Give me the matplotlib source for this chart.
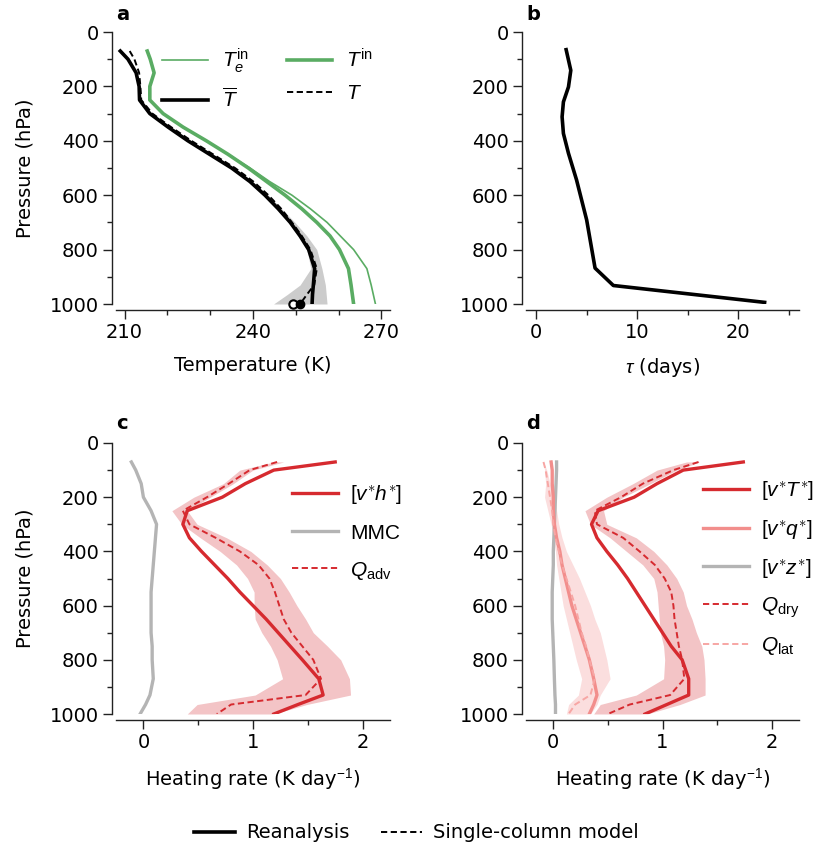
import numpy as np
import matplotlib
matplotlib.use("Agg")
import matplotlib.pyplot as plt
from matplotlib.lines import Line2D
from matplotlib.ticker import MultipleLocator

plt.rcParams['font.family'] = ['DejaVu Sans']
plt.rcParams['mathtext.fontset'] = 'custom'
plt.rcParams['mathtext.rm'] = 'Liberation Sans'
plt.rcParams['mathtext.it'] = 'Liberation Sans:italic'
plt.rcParams['mathtext.bf'] = 'Liberation Sans:bold'

# ---------------- data ----------------
P = [70, 100, 150, 200, 250, 300, 350, 400, 450, 500, 550, 600, 650, 700, 750, 800, 870, 930, 965, 1000]

# panel a (K)
T_bar = [209.0, 210.8, 212.7, 213.4, 213.5, 215.9, 220.2, 224.8, 229.9, 235.0, 239.3, 242.8, 245.9, 248.7, 251.0, 253.0, 254.4, 254.1, 253.9, 253.8]
T_scm = [211.2, 212.3, 213.4, 213.7, 213.9, 216.5, 220.9, 225.6, 230.7, 235.8, 240.1, 243.6, 246.6, 249.1, 251.4, 253.4, 254.9, 254.3, 252.6, 251.0]
T_in = [215.3, 216.0, 216.9, 215.9, 215.9, 219.0, 223.7, 229.1, 234.2, 238.9, 243.2, 247.5, 251.4, 254.9, 258.0, 260.2, 262.3, 262.9, 263.2, 263.5]
Te_in = [215.3, 216.0, 216.9, 215.9, 215.9, 219.0, 223.7, 229.1, 234.2, 239.3, 243.9, 249.1, 253.4, 257.3, 260.4, 263.5, 266.6, 267.6, 268.1, 268.6]
T_lo = [208.9, 210.7, 212.6, 213.3, 213.4, 215.8, 220.1, 224.7, 229.8, 234.9, 239.2, 242.7, 245.5, 248.3, 250.6, 252.6, 253.5, 251.0, 248.0, 244.8]
T_hi = [209.1, 210.9, 212.8, 213.5, 213.6, 216.0, 220.3, 224.9, 230.0, 235.1, 239.5, 243.6, 246.7, 249.8, 252.6, 254.9, 256.1, 256.9, 257.1, 257.3]
Ts_obs = 249.3
Ts_scm = 250.9

# panel b (days)
P_tau = [65, 141, 202, 257, 312, 373, 446, 544, 691, 868, 932, 994]
tau = [2.97, 3.43, 3.2, 2.7, 2.57, 2.7, 3.2, 4.0, 5.0, 5.83, 7.64, 22.6]

# panel c (K/day)
vh = [1.75, 1.19, 0.93, 0.72, 0.40, 0.36, 0.42, 0.53, 0.65, 0.77, 0.88, 1.00, 1.12, 1.23, 1.34, 1.45, 1.60, 1.64, 1.41, 1.19]
mmc = [-0.11, -0.07, -0.02, 0.0, 0.07, 0.12, 0.11, 0.10, 0.09, 0.08, 0.07, 0.07, 0.07, 0.07, 0.08, 0.08, 0.09, 0.06, 0.02, -0.03]
Q_adv = [1.22, 0.97, 0.78, 0.58, 0.36, 0.42, 0.66, 0.88, 1.05, 1.15, 1.20, 1.24, 1.28, 1.35, 1.45, 1.55, 1.62, 1.48, 0.80, 0.67]
Q_adv_lo = [1.19, 0.88, 0.73, 0.46, 0.26, 0.35, 0.52, 0.70, 0.85, 0.95, 1.01, 1.01, 1.02, 1.08, 1.16, 1.22, 1.27, 1.02, 0.49, 0.40]
Q_adv_hi = [1.28, 1.00, 0.82, 0.61, 0.40, 0.49, 0.76, 0.98, 1.13, 1.25, 1.33, 1.40, 1.48, 1.55, 1.68, 1.80, 1.88, 1.89, 1.49, 1.19]

# panel d (K/day)
vT = [1.74, 1.19, 0.95, 0.74, 0.41, 0.35, 0.40, 0.49, 0.59, 0.68, 0.76, 0.84, 0.92, 1.00, 1.08, 1.18, 1.24, 1.24, 1.04, 0.84]
vq = [-0.02, -0.01, -0.01, 0.0, 0.0, 0.01, 0.03, 0.06, 0.08, 0.11, 0.14, 0.17, 0.21, 0.25, 0.29, 0.33, 0.37, 0.40, 0.37, 0.33]
vz = [0.03, 0.03, 0.025, 0.02, 0.015, 0.01, 0.005, 0.0, 0.0, -0.005, -0.01, -0.01, -0.01, -0.005, 0.0, 0.005, 0.01, 0.015, 0.02, 0.02]
Q_dry = [1.33, 1.10, 0.82, 0.62, 0.38, 0.40, 0.64, 0.79, 0.93, 1.02, 1.08, 1.10, 1.11, 1.13, 1.15, 1.18, 1.20, 1.07, 0.70, 0.50]
Q_dry_lo = [1.22, 0.95, 0.73, 0.49, 0.29, 0.34, 0.52, 0.67, 0.82, 0.92, 0.95, 0.96, 0.97, 0.98, 1.01, 1.02, 1.01, 0.76, 0.43, 0.37]
Q_dry_hi = [1.34, 1.13, 0.89, 0.64, 0.46, 0.49, 0.76, 0.92, 1.04, 1.13, 1.19, 1.22, 1.27, 1.31, 1.36, 1.38, 1.39, 1.39, 1.16, 0.86]
Q_lat = [-0.09, -0.07, -0.05, -0.03, -0.01, 0.0, 0.02, 0.05, 0.08, 0.12, 0.16, 0.20, 0.23, 0.26, 0.30, 0.33, 0.38, 0.34, 0.20, 0.14]
Q_lat_lo = [-0.09, -0.08, -0.07, -0.08, -0.05, -0.02, 0.0, 0.02, 0.03, 0.05, 0.07, 0.09, 0.12, 0.15, 0.18, 0.21, 0.26, 0.23, 0.14, 0.12]
Q_lat_hi = [-0.09, -0.06, -0.03, 0.02, 0.03, 0.05, 0.08, 0.12, 0.18, 0.24, 0.29, 0.34, 0.38, 0.43, 0.46, 0.49, 0.52, 0.43, 0.40, 0.34]

# ---------------- style ----------------
RED = '#d62a2f'
LRED = '#f28e8c'
LLRED = '#f7a6a4'
SHADE = '#f3c4c6'
LSHADE = '#fbdede'
GRAY = '#b4b4b4'
GREEN = '#5aac63'
DASH = (0, (3.2, 1.8))

fig = plt.figure(figsize=(8.33, 8.51), dpi=100)
W, H = 833, 851
def add_ax(x0, x1, y0, y1):
    return fig.add_axes([x0 / W, 1 - y1 / H, (x1 - x0) / W, (y1 - y0) / H])

axa = add_ax(116, 390, 32, 304)
axb = add_ax(526, 799, 32, 304)
axc = add_ax(116, 390, 443, 714)
axd = add_ax(526, 799, 443, 714)

TICKFS = 14
for ax in (axa, axb, axc, axd):
    ax.spines['top'].set_visible(False)
    ax.spines['right'].set_visible(False)
    ax.spines['left'].set_position(('outward', 3))
    ax.spines['bottom'].set_position(('outward', 4.5))
    for s in ('left', 'bottom'):
        ax.spines[s].set_linewidth(1.0)
        ax.spines[s].set_color('#222222')
    ax.set_ylim(1000, 0)
    ax.yaxis.set_major_locator(MultipleLocator(200))
    ax.yaxis.set_minor_locator(MultipleLocator(100))
    ax.tick_params(which='major', length=6.5, width=1.0, labelsize=TICKFS, color='#222222', pad=3)
    ax.tick_params(which='minor', length=3.5, width=1.0, color='#222222')
    ax.set_facecolor('none')

LEGFONT = {'family': ['Liberation Sans', 'DejaVu Sans'], 'size': 15}

# panel a
axa.fill_betweenx(P, T_lo, T_hi, color='#cccccc', lw=0, zorder=1)
axa.plot(Te_in, P, color=GREEN, lw=1.2, label=r'$T_e^{\mathrm{in}}$', zorder=2)
axa.plot(T_bar, P, color='k', lw=2.6, label=r'$\overline{T}$', zorder=3)
axa.plot(T_in, P, color=GREEN, lw=2.6, label=r'$T^{\mathrm{in}}$', zorder=2)
axa.plot(T_scm, P, color='k', lw=1.4, ls=DASH, label=r'$T$', zorder=4)
axa.plot([Ts_obs], [1000], 'o', mfc='white', mec='k', ms=6, mew=1.5, clip_on=False, zorder=5)
axa.plot([Ts_scm], [1000], 'o', color='k', ms=6, clip_on=False, zorder=5)
axa.set_xlim(208, 272)
axa.xaxis.set_minor_locator(MultipleLocator(10))
axa.set_xticks([210, 240, 270])
axa.set_xlabel('Temperature (K)', fontsize=TICKFS, labelpad=10)
axa.set_ylabel('Pressure (hPa)', fontsize=TICKFS, labelpad=11)
axa.legend(loc='upper left', bbox_to_anchor=(0.10, 1.015), ncol=2, frameon=False,
           prop=LEGFONT, handlelength=2.2, handletextpad=0.65, columnspacing=1.85,
           labelspacing=0.6)

# panel b
axb.plot(tau, P_tau, color='k', lw=2.6)
axb.set_xlim(-1, 26)
axb.xaxis.set_major_locator(MultipleLocator(10))
axb.xaxis.set_minor_locator(MultipleLocator(5))
axb.set_xlabel(r'$\tau$ (days)', fontsize=TICKFS, labelpad=10)

# panel c
axc.fill_betweenx(P, Q_adv_lo, Q_adv_hi, color=SHADE, lw=0, zorder=1)
axc.plot(vh, P, color=RED, lw=2.4, label=r'$[v^{\ast}h^{\ast}]$', zorder=3)
axc.plot(mmc, P, color=GRAY, lw=2.4, label='MMC', zorder=2)
axc.plot(Q_adv, P, color=RED, lw=1.4, ls=DASH, label=r'$Q_{\mathrm{adv}}$', zorder=4)
axc.set_xlim(-0.25, 2.25)
axc.xaxis.set_major_locator(MultipleLocator(1))
axc.xaxis.set_minor_locator(MultipleLocator(0.5))
axc.set_xlabel(r'Heating rate (K day$^{-1}$)', fontsize=TICKFS, labelpad=10)
axc.set_ylabel('Pressure (hPa)', fontsize=TICKFS, labelpad=11)
axc.legend(loc='upper left', bbox_to_anchor=(0.573, 0.92), frameon=False,
           prop=LEGFONT, handlelength=2.2, handletextpad=0.6, labelspacing=0.82)

# panel d
axd.fill_betweenx(P, Q_lat_lo, Q_lat_hi, color=LSHADE, lw=0, zorder=1)
axd.fill_betweenx(P, Q_dry_lo, Q_dry_hi, color=SHADE, lw=0, zorder=1)
axd.plot(vT, P, color=RED, lw=2.4, label=r'$[v^{\ast}T^{\ast}]$', zorder=3)
axd.plot(vq, P, color=LRED, lw=2.4, label=r'$[v^{\ast}q^{\ast}]$', zorder=3)
axd.plot(vz, P, color=GRAY, lw=2.4, label=r'$[v^{\ast}z^{\ast}]$', zorder=2)
axd.plot(Q_dry, P, color=RED, lw=1.4, ls=DASH, label=r'$Q_{\mathrm{dry}}$', zorder=4)
axd.plot(Q_lat, P, color=LLRED, lw=1.4, ls=DASH, label=r'$Q_{\mathrm{lat}}$', zorder=4)
axd.set_xlim(-0.25, 2.25)
axd.xaxis.set_major_locator(MultipleLocator(1))
axd.xaxis.set_minor_locator(MultipleLocator(0.5))
axd.set_xlabel(r'Heating rate (K day$^{-1}$)', fontsize=TICKFS, labelpad=10)
axd.legend(loc='upper left', bbox_to_anchor=(0.58, 0.935), frameon=False,
           prop=LEGFONT, handlelength=2.2, handletextpad=0.6, labelspacing=0.75)

# panel letters
for lab, x, y in (('a', 116, 14), ('b', 526, 14), ('c', 116, 423), ('d', 526, 423)):
    fig.text(x / W, 1 - y / H, lab, fontsize=14, fontweight='bold', ha='left', va='center',
             family='DejaVu Sans')

# figure legend
handles = [Line2D([], [], color='k', lw=2.6), Line2D([], [], color='k', lw=1.4, ls=DASH)]
fig.legend(handles, ['Reanalysis', 'Single-column model'], loc='center', bbox_to_anchor=(0.5, 1 - 833 / H),
           ncol=2, frameon=False, fontsize=TICKFS, handlelength=2.1, handletextpad=0.6, columnspacing=1.6)

fig.savefig('out.png', dpi=100)
